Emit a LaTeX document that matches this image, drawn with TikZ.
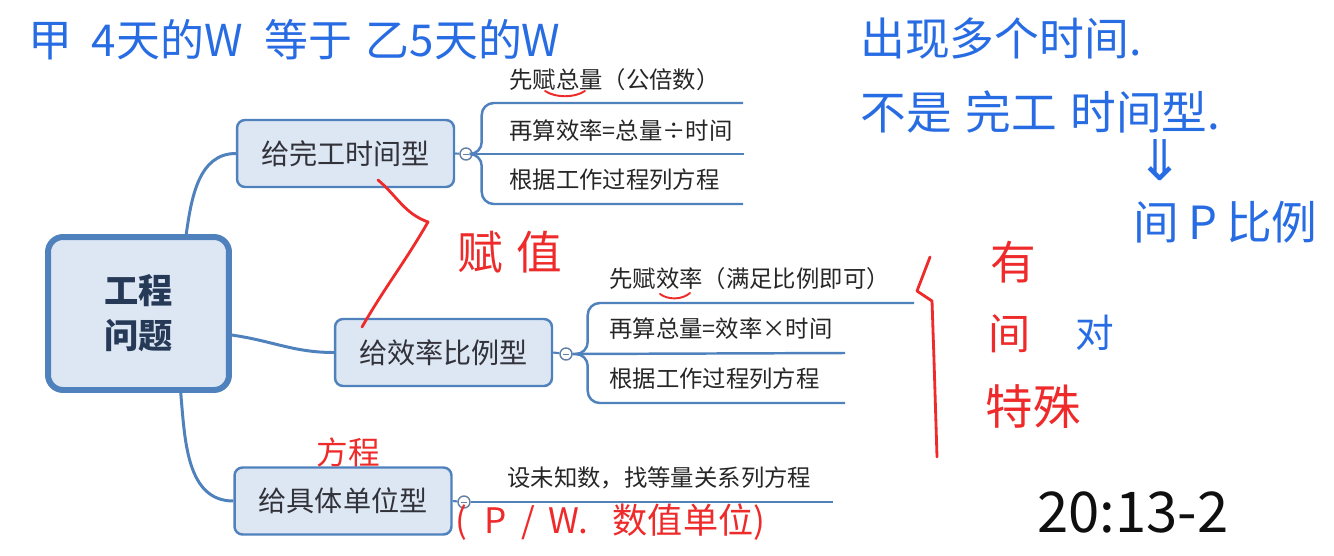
\documentclass[tikz,border=0pt]{standalone}
\usepackage{fontspec}
\setmainfont{Noto Sans CJK SC}
\newfontfamily\symfont{DejaVu Sans}
\usetikzlibrary{positioning,calc}
\definecolor{mmline}{RGB}{79,129,189}
\definecolor{mmfill}{RGB}{221,231,243}
\definecolor{mmtext}{RGB}{50,50,58}
\definecolor{mmroot}{RGB}{38,58,88}
\definecolor{penblue}{RGB}{40,108,228}
\definecolor{penred}{RGB}{238,42,42}
\definecolor{penblack}{RGB}{15,15,15}

\tikzset{
  root/.style={draw=mmline,fill=mmfill,line width=3.4pt,rounded corners=0.3cm,
    minimum width=3.62cm,minimum height=3.06cm,align=center,text=mmroot,
    font=\fontsize{19.5}{25.5}\selectfont\bfseries},
  topic/.style={draw=mmline,fill=mmfill,line width=1.4pt,rounded corners=0.16cm,
    minimum width=4.34cm,minimum height=1.34cm,text=mmtext,
    font=\fontsize{16}{18}\selectfont},
  fold/.style={circle,draw=mmline!60!gray,fill=white,line width=0.8pt,
    minimum size=0.24cm,inner sep=0pt,
    path picture={\draw[mmline!60!gray,line width=0.5pt]
      ([xshift=-0.6mm]path picture bounding box.center) --
      ([xshift=0.6mm]path picture bounding box.center);}},
  leaf/.style={anchor=west,inner sep=0pt,text=black!85,
    font=\fontsize{13.3}{15}\selectfont},
  link/.style={draw=mmline,line width=1.7pt},
  branch/.style={draw=mmline,line width=1.4pt,rounded corners=0.24cm},
  bluepen/.style={text=penblue,inner sep=0pt},
  redpen/.style={text=penred,inner sep=0pt},
  redink/.style={draw=penred,line width=1.6pt,line cap=round,line join=round},
}

\begin{document}
\begin{tikzpicture}[x=0.02cm,y=-0.02cm]
  \useasboundingbox (0,0) rectangle (1334,555);

  %% Root and the three topics
  \node[root] (ctr) at (138.5,313.5) {工程\\问题};
  \node[topic] (tpa) at (345.5,153.5) {给完工时间型};
  \node[topic] (tpb) at (443.5,352.5) {给效率比例型};
  \node[topic] (tpc) at (343,501) {给具体单位型};

  %% Root to topics
  \draw[link] (ctr.59) to[out=82,in=180] (tpa.west);
  \draw[link] (ctr.-13) to[out=-8,in=180] (tpb.west);
  \draw[link] (ctr.-62) to[out=-85,in=180] (tpc.west);

  %% Fold buttons
  \node[fold] (fa) at (466,154) {};
  \node[fold] (fb) at (566,354) {};
  \node[fold] (fc) at (464,502) {};
  \draw[link,line width=1.2pt] (tpa.east) -- (fa);
  \draw[link,line width=1.2pt] (tpb.east) -- (fb);
  \draw[link,line width=1.2pt] (tpc.east) -- (fc);

  %% Topic A leaves
  \coordinate (ea1) at (743,103);
  \coordinate (ea2) at (744,154);
  \coordinate (ea3) at (743,204);
  \draw[branch] (fa.east) -- ++(9,0) |- (ea1);
  \draw[branch] (fa.east) -- ++(9,0) |- (ea3);
  \draw[branch] (fa.east) -- (ea2);
  \node[leaf] (la1) at (509,80) {先赋总量（公倍数）};
  \node[leaf] (la2) at (509,131) {再算效率=总量÷时间};
  \node[leaf] (la3) at (509,180) {根据工作过程列方程};

  %% Topic B leaves
  \coordinate (eb1) at (914,303);
  \coordinate (eb2) at (845,353);
  \coordinate (eb3) at (845,403);
  \draw[branch] (fb.east) -- ++(15,0) |- (eb1);
  \draw[branch] (fb.east) -- ++(15,0) |- (eb3);
  \draw[branch] (fb.east) -- (eb2);
  \node[leaf] (lb1) at (609,279) {先赋效率（满足比例即可）};
  \node[leaf] (lb2) at (609,329) {再算总量=效率×时间};
  \node[leaf] (lb3) at (609,379) {根据工作过程列方程};

  %% Topic C leaf
  \coordinate (ec1) at (833,502);
  \draw[branch] (fc.east) -- (ec1);
  \node[leaf] (lc1) at (507,478) {设未知数，找等量关系列方程};

  %% Handwritten notes (blue)
  \node[bluepen,anchor=west,font=\fontsize{25}{27}\selectfont] (hw1) at (28,40)
    {甲\hspace{0.45em}4天的W\hspace{0.5em}等于\hspace{0.3em}乙5天的W};
  \node[bluepen,anchor=west,font=\fontsize{25.5}{28}\selectfont] (hw2) at (860,38) {出现多个时间.};
  \node[bluepen,anchor=west,font=\fontsize{26}{28}\selectfont] (hw3) at (860,112)
    {不是\hspace{0.3em}完工\hspace{0.3em}时间型.};
  \node[bluepen,font=\symfont\fontsize{32}{34}\selectfont] (hw4) at (1160,160) {⇓};
  \node[bluepen,anchor=west,font=\fontsize{26}{28}\selectfont] (hw5) at (1133,222) {间\hspace{0.2em}P\hspace{0.2em}比例};
  \node[bluepen,font=\fontsize{22}{24}\selectfont] (hw6) at (1095,333) {对};

  %% Handwritten notes (red)
  \node[redpen,font=\fontsize{26}{28}\selectfont] (hr1) at (510,252) {赋\hspace{0.3em}值};
  \node[redpen,font=\fontsize{18}{20}\selectfont] (hr2) at (348,452) {方程};
  \node[redpen,anchor=west,font=\fontsize{20}{22}\selectfont] (hr3) at (455,522)
    {(\hspace{0.5em}P\hspace{0.4em}/\hspace{0.4em}W.\hspace{0.7em}数值单位)};
  \node[redpen,font=\fontsize{26}{28}\selectfont] (hr4) at (1013,262) {有};
  \node[redpen,font=\fontsize{24}{26}\selectfont] (hr5) at (1010,334) {间};
  \node[redpen,font=\fontsize{27}{28}\selectfont] (hr6) at (1033,407) {特殊};
  \draw[redink] (378,180) to[out=-40,in=160] (428,222) to[out=-120,in=60] (362,327);
  \draw[redink] (930,257) -- (917,291) -- (932,301) -- (934,360) -- (937,457);
  \draw[redink,line width=1.1pt] (545,91) .. controls (556,98) and (574,98) .. (585,91);
  \draw[redink,line width=1.1pt] (660,294) .. controls (668,300) and (682,300) .. (690,293);

  %% Time stamp
  \node[text=penblack,inner sep=0pt,font=\fontsize{32}{34}\selectfont] (ts) at (1133,512) {20:13-2};
\end{tikzpicture}
\end{document}
